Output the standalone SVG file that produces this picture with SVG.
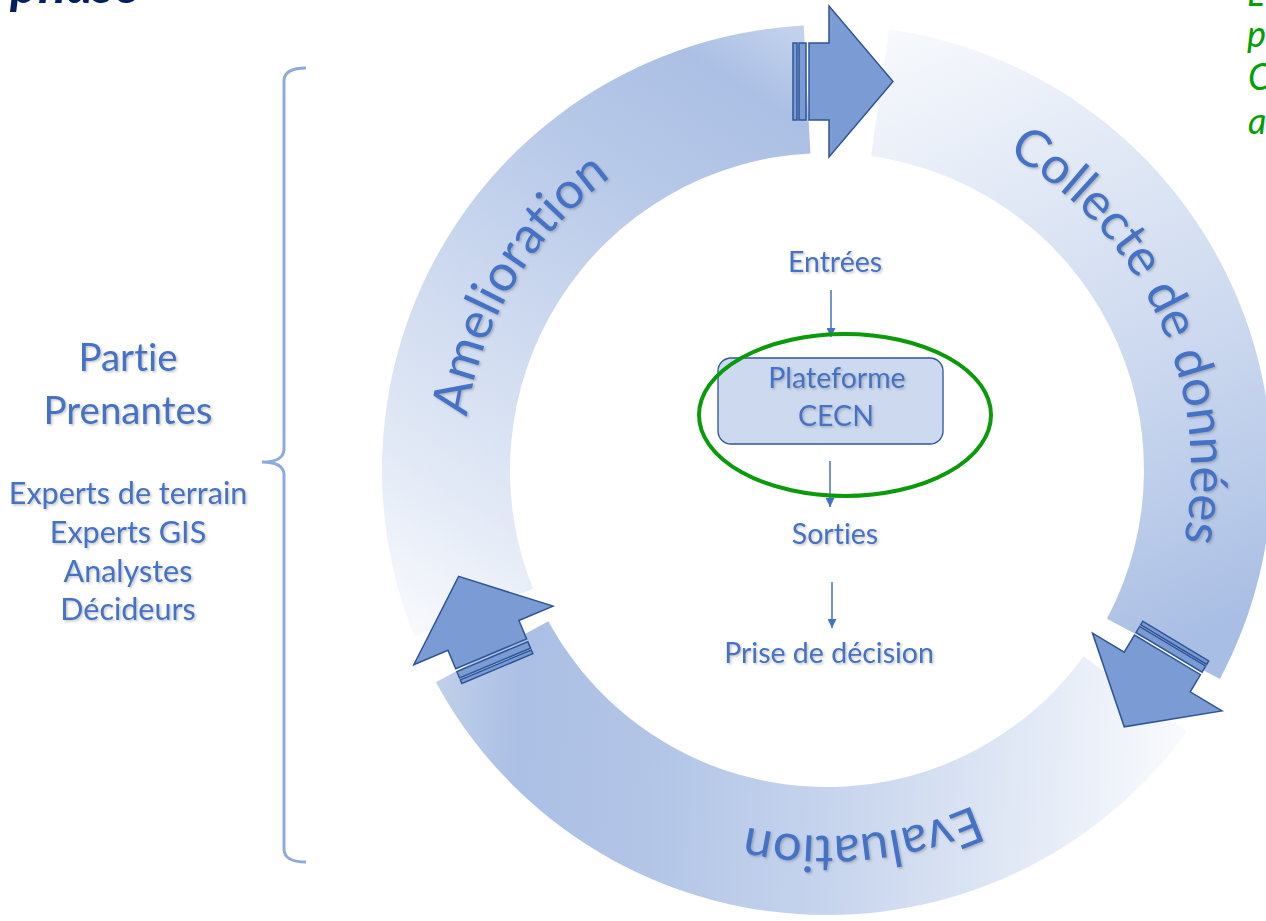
<svg xmlns="http://www.w3.org/2000/svg" width="1266" height="921" viewBox="0 0 1266 921">
<style>
text{font-variant-ligatures:none;}
.lbl{font-family:Lato,"Open Sans","DejaVu Sans",sans-serif;fill:#4472c4;}
.ring{font-size:51px;}
.mid{font-size:28.5px;text-anchor:middle;}
.big{font-size:38.5px;text-anchor:middle;}
.lst{font-size:30.5px;text-anchor:middle;}
.blk{fill:#7b9bd4;stroke:#2f5597;stroke-width:1.5;stroke-linejoin:miter;}
.flow{stroke:#4472c4;stroke-width:1.5;fill:none;}
.green{font-family:Lato,"Open Sans",sans-serif;font-style:italic;font-size:36px;fill:#00a000;}
</style>
<defs>
<filter id="sh" x="-10%" y="-10%" width="120%" height="130%">
<feDropShadow dx="1.5" dy="1.5" stdDeviation="1.2" flood-color="#555" flood-opacity="0.35"/>
</filter>
<linearGradient id="gA" gradientUnits="userSpaceOnUse" x1="420" y1="640" x2="800" y2="40">
<stop offset="0" stop-color="#4472c4" stop-opacity="0.04"/>
<stop offset="0.2" stop-color="#4472c4" stop-opacity="0.15"/>
<stop offset="0.7" stop-color="#4472c4" stop-opacity="0.38"/>
<stop offset="0.9" stop-color="#4472c4" stop-opacity="0.45"/>
<stop offset="1" stop-color="#4472c4" stop-opacity="0.33"/>
</linearGradient>
<linearGradient id="gC" gradientUnits="userSpaceOnUse" x1="880" y1="30" x2="1165" y2="650">
<stop offset="0" stop-color="#4472c4" stop-opacity="0.04"/>
<stop offset="0.36" stop-color="#4472c4" stop-opacity="0.18"/>
<stop offset="0.62" stop-color="#4472c4" stop-opacity="0.28"/>
<stop offset="0.83" stop-color="#4472c4" stop-opacity="0.37"/>
<stop offset="1" stop-color="#4472c4" stop-opacity="0.46"/>
</linearGradient>
<linearGradient id="gE" gradientUnits="userSpaceOnUse" x1="1190" y1="730" x2="440" y2="680">
<stop offset="0" stop-color="#4472c4" stop-opacity="0.03"/>
<stop offset="0.24" stop-color="#4472c4" stop-opacity="0.17"/>
<stop offset="0.46" stop-color="#4472c4" stop-opacity="0.30"/>
<stop offset="0.71" stop-color="#4472c4" stop-opacity="0.41"/>
<stop offset="0.89" stop-color="#4472c4" stop-opacity="0.45"/>
<stop offset="1" stop-color="#4472c4" stop-opacity="0.34"/>
</linearGradient>
<marker id="ah" viewBox="0 0 10 10" refX="10" refY="5" markerWidth="10" markerHeight="9" markerUnits="userSpaceOnUse" orient="auto">
<path d="M0,0 L10,5 L0,10 z" fill="#4472c4"/>
</marker>
<g id="blockArrow">
<rect class="blk" x="-50" y="-38.5" width="4" height="77"/>
<rect class="blk" x="-44" y="-38.5" width="7" height="77"/>
<polygon class="blk" points="-34,-38.5 -14,-38.5 -14,-75.5 50,0 -14,75.5 -14,38.5 -34,38.5"/>
</g>
<path id="tpA" d="M508.6,646.5 A364,364 0 0,1 833.4,106.1"/>
<path id="tpC" d="M861.9,107.7 A364,364 0 0,1 1123.3,681.4"/>
<path id="tpE" d="M1160.0,621.8 A366,366 0 0,1 529.0,682.5"/>
</defs>
<rect width="1266" height="921" fill="#ffffff"/>

<text x="10" y="3" font-family="Lato,'Open Sans',sans-serif" font-weight="bold" font-style="italic" font-size="52" fill="#002060">phase</text>

<g id="note-green">
<text class="green" x="1247" y="6">L</text>
<text class="green" x="1247" y="47">p</text>
<text class="green" x="1248" y="90">C</text>
<text class="green" x="1248" y="134">a</text>
</g>

<g id="node-amelioration">
<path d="M414.4,636.7 A445,445 0 0,1 803.7,25.6 L810.4,153.4 A317,317 0 0,0 533.1,588.8 Z" fill="url(#gA)"/>
<text class="lbl ring" filter="url(#sh)"><textPath href="#tpA" startOffset="50%" text-anchor="middle">Amelioration</textPath></text>
</g>
<g id="node-collecte">
<path d="M888.9,29.3 A445,445 0 0,1 1219.9,678.9 L1106.9,618.8 A317,317 0 0,0 871.1,156.1 Z" fill="url(#gC)"/>
<text class="lbl ring" filter="url(#sh)"><textPath href="#tpC" startOffset="50%" text-anchor="middle">Collecte de données</textPath></text>
</g>
<g id="node-evaluation">
<path d="M1187.0,731.6 A445,445 0 0,1 435.9,682.3 L548.4,621.3 A317,317 0 0,0 1083.5,656.3 Z" fill="url(#gE)"/>
<text class="lbl ring" filter="url(#sh)"><textPath href="#tpE" startOffset="50%" text-anchor="middle">Evaluation</textPath></text>
</g>

<g id="connectors">
<use href="#blockArrow" transform="translate(843,81.5)"/>
<use href="#blockArrow" transform="translate(1150,684) rotate(121)"/>
<use href="#blockArrow" transform="translate(478,622.5) rotate(247.2)"/>
<line class="flow" x1="831" y1="290" x2="831" y2="337" marker-end="url(#ah)"/>
<line class="flow" x1="830" y1="461" x2="830" y2="507" marker-end="url(#ah)"/>
<line class="flow" x1="832" y1="582" x2="832" y2="628" marker-end="url(#ah)"/>
</g>

<g id="node-entrees">
<text class="lbl mid" x="835" y="272" filter="url(#sh)">Entrées</text>
</g>
<g id="node-plateforme">
<rect x="718" y="358" width="225" height="86" rx="13" fill="#ccd9ef" stroke="#2f5597" stroke-width="1.3"/>
<text class="lbl mid" x="837" y="388" filter="url(#sh)">Plateforme</text>
<text class="lbl mid" x="836" y="426" filter="url(#sh)">CECN</text>
<ellipse cx="845" cy="415" rx="146" ry="81" fill="none" stroke="#0a9a0a" stroke-width="4"/>
</g>
<g id="node-sorties">
<text class="lbl mid" x="835" y="544" filter="url(#sh)">Sorties</text>
</g>
<g id="node-decision">
<text class="lbl mid" x="829" y="663" filter="url(#sh)">Prise de décision</text>
</g>

<g id="node-parties">
<path d="M306,68 Q285,68 284,80 L284,450 Q283,462 262,462 Q283,462 284,474 L284,850 Q285,862 306,862" fill="none" stroke="#8eaadc" stroke-width="3"/>
<text class="lbl big" x="128" y="371" filter="url(#sh)">Partie</text>
<text class="lbl big" x="128" y="424" filter="url(#sh)">Prenantes</text>
<text class="lbl lst" x="128" y="504" filter="url(#sh)">Experts de terrain</text>
<text class="lbl lst" x="128" y="543" filter="url(#sh)">Experts GIS</text>
<text class="lbl lst" x="128" y="582" filter="url(#sh)">Analystes</text>
<text class="lbl lst" x="128" y="620" filter="url(#sh)">Décideurs</text>
</g>
</svg>
